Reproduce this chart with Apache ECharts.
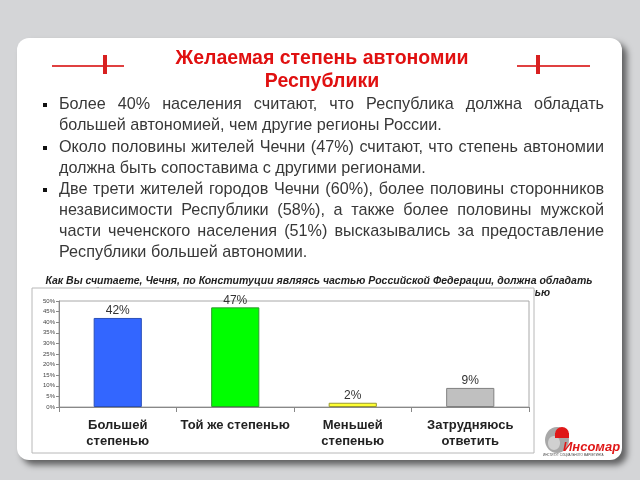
<!DOCTYPE html>
<html><head><meta charset="utf-8">
<script src="https://cdn.jsdelivr.net/npm/echarts@6/dist/echarts.min.js"></script>
<style>html,body{margin:0;padding:0;background:#d4d5d7}#c{width:640px;height:480px}</style>
</head><body><div id="c"></div>
<script>
const categories = ['Большей\nстепенью', 'Той же степенью', 'Меньшей\nстепенью', 'Затрудняюсь\nответить'];
const values = [42, 47, 2, 9];
const yMin = 0, yMax = 50, yStep = 5;
const titleLines = ['Желаемая степень автономии', 'Республики'];
const bulletParas = [
  ['Более 40% населения считают, что Республика должна обладать', 'большей автономией, чем другие регионы России.'],
  ['Около половины жителей Чечни (47%) считают, что степень автономии', 'должна быть сопоставима с другими регионами.'],
  ['Две трети жителей городов Чечни (60%), более половины сторонников', 'независимости Республики (58%), а также более половины мужской', 'части чеченского населения (51%) высказывались за предоставление', 'Республики большей автономии.']
];
const questionLines = ['Как Вы считаете, Чечня, по Конституции являясь частью Российской Федерации, должна обладать', 'большей автономией, чем другие регионы России, такой же или меньшей степенью'];

const barColors = ['#3366ff', '#00ff00', '#ffff33', '#c0c0c0'];
const barBorders = ['#2a4fb8', '#2f9a2f', '#9a9a30', '#808080'];

const FF = '"Liberation Sans", Arial, sans-serif';
const cv = document.createElement('canvas').getContext('2d');
function mw(t, font){ cv.font = font; return cv.measureText(t).width; }

const g = [];
// panel
g.push({type:'rect', z:-20, shape:{x:17,y:38,width:605,height:422,r:12},
  style:{fill:'#ffffff', shadowBlur:6, shadowOffsetX:5, shadowOffsetY:5, shadowColor:'rgba(0,0,0,0.55)'}});
// title
const titleFont = 'bold 19.5px ' + FF;
titleLines.forEach((t,i)=>g.push({type:'text', z:-10, style:{text:t, x:322, y:59+i*23, align:'center', verticalAlign:'middle',
  font:titleFont, fill:'#e01010'}}));
// decorations
[[52,124,105],[517,590,538]].forEach(d=>{
  g.push({type:'line', z:-10, shape:{x1:d[0],y1:66,x2:d[1],y2:66}, style:{stroke:'#e04040', lineWidth:2}});
  g.push({type:'rect', z:-10, shape:{x:d[2]-2,y:55,width:4,height:19}, style:{fill:'#d82020'}});
});
// bullets text, justified
const bodyFont = '16.2px ' + FF;
const L = 59, R = 604;
let lineIdx = 0;
const lineYs = [105,126,148,169,190,211,232,253];
bulletParas.forEach(p=>{
  g.push({type:'rect', z:-10, shape:{x:43,y:lineYs[lineIdx]-2,width:4,height:4}, style:{fill:'#111'}});
  p.forEach((line,k)=>{
    const y = lineYs[lineIdx++];
    if (k === p.length-1) {
      g.push({type:'text', z:-10, style:{text:line, x:L, y:y, verticalAlign:'middle', font:bodyFont, fill:'#383838'}});
    } else {
      const words = line.split(' ');
      const tot = words.reduce((s,w)=>s+mw(w, bodyFont),0);
      const gap = (R-L-tot)/(words.length-1);
      let x = L;
      words.forEach(w=>{
        g.push({type:'text', z:-10, style:{text:w, x:x, y:y, verticalAlign:'middle', font:bodyFont, fill:'#383838'}});
        x += mw(w, bodyFont) + gap;
      });
    }
  });
});
// question
const qFont = 'italic bold 10.5px ' + FF;
g.push({type:'text', z:-10, style:{text:questionLines[0], x:319, y:281, align:'center', verticalAlign:'middle', font:qFont, fill:'#222'}});
g.push({type:'text', z:-10, style:{text:questionLines[1], x:550, y:293, align:'right', verticalAlign:'middle', font:qFont, fill:'#222'}});
// chart box
g.push({type:'rect', z:-5, shape:{x:32,y:288,width:502,height:165}, style:{fill:'#ffffff', stroke:'#b8b8b8', lineWidth:1}});
// logo
g.push({type:'ellipse', z:-5, shape:{cx:557,cy:440,rx:12,ry:13}, style:{fill:'#a8a8a8'}});
g.push({type:'ellipse', z:-5, shape:{cx:554,cy:443,rx:6,ry:7}, style:{fill:'#d0d0d0'}});
g.push({type:'sector', z:-4, shape:{cx:562,cy:434,r:7,r0:0,startAngle:Math.PI,endAngle:Math.PI*2}, style:{fill:'#e01818'}});
g.push({type:'rect', z:-4, shape:{x:555,y:433,width:14,height:5}, style:{fill:'#e01818'}});
g.push({type:'text', z:-4, style:{text:'Инсомар', x:563, y:447, verticalAlign:'middle', font:'italic bold 13px ' + FF, fill:'#e01818'}});
g.push({type:'text', z:-4, style:{text:'ИНСТИТУТ СОЦИАЛЬНОГО МАРКЕТИНГА', x:543, y:455, verticalAlign:'middle', font:'3px ' + FF, fill:'#444'}});

const chart = echarts.init(document.getElementById('c'), null, {renderer:'canvas'});
chart.setOption({
  backgroundColor:'#d4d5d7',
  animation:false,
  graphic:g,
  grid:{left:59, right:111, top:301, bottom:73, show:true, borderColor:'#a8a8a8', borderWidth:1, backgroundColor:'transparent'},
  xAxis:{type:'category', data:categories,
    axisLine:{lineStyle:{color:'#888'}}, axisTick:{show:true, length:5, lineStyle:{color:'#888'}},
    axisLabel:{fontSize:13, fontWeight:'bold', fontFamily:FF, color:'#222', lineHeight:16, margin:10, interval:0}},
  yAxis:{type:'value', min:yMin, max:yMax, interval:yStep,
    axisLine:{show:true, lineStyle:{color:'#888'}}, axisTick:{show:true, length:3, lineStyle:{color:'#888'}},
    splitLine:{show:false},
    axisLabel:{formatter:'{value}%', fontSize:6, color:'#444', margin:4, fontFamily:FF}},
  series:[{type:'bar', barWidth:'41%',
    data: values.map((v,i)=>({value:v, itemStyle:{color:barColors[i], borderColor:barBorders[i], borderWidth:1}})),
    label:{show:true, position:'top', distance:1, formatter:'{c}%', fontSize:12, color:'#333', fontFamily:FF}}]
});
</script></body></html>
